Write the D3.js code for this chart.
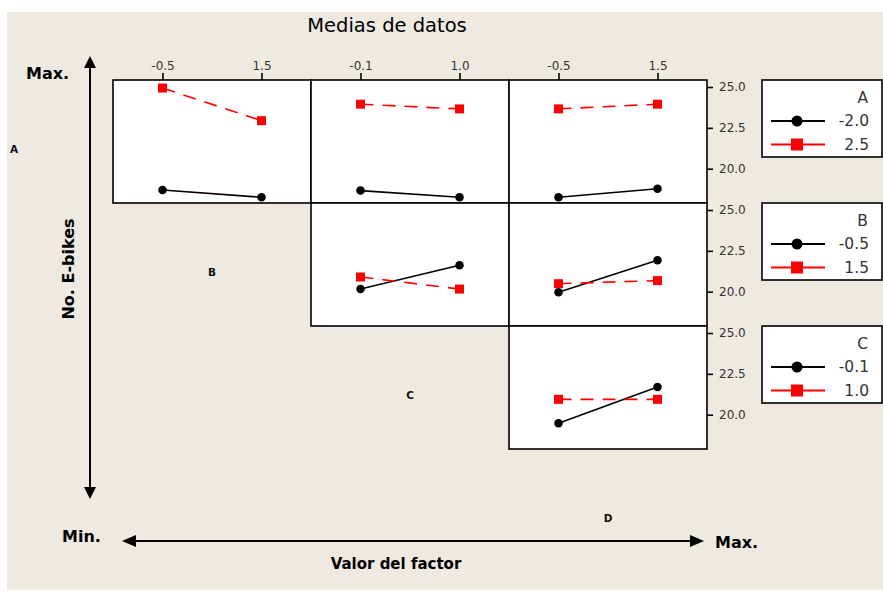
<!DOCTYPE html>
<html><head><meta charset="utf-8">
<script src="https://cdn.jsdelivr.net/npm/d3@7"></script>
<style>body{margin:0;background:#fff}svg{display:block}</style>
</head><body><svg id="c" width="883" height="592"></svg>
<script>
// ---- data ----
const rowFactors = ["A", "B", "C"];
const colFactors = ["B", "C", "D"];
const levelsA = ["-2.0", "2.5"];
const levelsB = ["-0.5", "1.5"];
const levelsC = ["-0.1", "1.0"];
const levelsD = ["-0.5", "1.5"];
// means: [line level][x level]
const meansAB = [[18.70, 18.25], [24.94, 22.94]];
const meansAC = [[18.66, 18.25], [23.95, 23.66]];
const meansAD = [[18.25, 18.77], [23.66, 23.95]];
const meansBC = [[20.16, 21.62], [20.90, 20.16]];
const meansBD = [[19.96, 21.93], [20.49, 20.68]];
const meansCD = [[19.48, 21.69], [20.94, 20.94]];
const yTicks = [20.0, 22.5, 25.0];
const yDomain = [17.9, 25.43];
const cornerLabels = ["A", "B", "C", "D"];

const levels = {A: levelsA, B: levelsB, C: levelsC, D: levelsD};
const means = {AB: meansAB, AC: meansAC, AD: meansAD, BC: meansBC, BD: meansBD, CD: meansCD};

const svg = d3.select("#c");
const FONT = "'DejaVu Sans', Verdana, sans-serif";
svg.append("rect").attr("width", 883).attr("height", 592).attr("fill", "#fff");
svg.append("rect").attr("x", 7).attr("y", 12).attr("width", 876).attr("height", 578).attr("fill", "#EEEAE1");

const colBand = d3.scaleBand().domain(colFactors).range([113, 707]);
const rowBand = d3.scaleBand().domain(rowFactors).range([80, 449]);
const cw = colBand.bandwidth(), rh = rowBand.bandwidth();

const styles = [
  {color: "#000", dash: null, marker: "circle"},
  {color: "#FF0000", dash: "13,9", marker: "square"}
];

function marker(g, st, x, y, size) {
  if (st.marker === "circle") {
    g.append("circle").attr("cx", x).attr("cy", y).attr("r", size / 2).attr("fill", st.color);
  } else {
    g.append("rect").attr("x", x - size / 2).attr("y", y - size / 2).attr("width", size).attr("height", size).attr("fill", st.color);
  }
}

rowFactors.forEach((rf, ri) => {
  colFactors.forEach((cf, ci) => {
    if (ci < ri) return;
    const g = svg.append("g").attr("transform", `translate(${colBand(cf)},${rowBand(rf)})`);
    const x = d3.scalePoint().domain(levels[cf]).range([0, cw]).padding(0.5);
    const y = d3.scaleLinear().domain(yDomain).range([rh, 0]);
    g.append("rect").attr("width", cw).attr("height", rh).attr("fill", "#fff");
    const data = means[rf + cf];
    data.forEach((vals, li) => {
      const st = styles[li];
      const pts = vals.map((v, k) => [x(levels[cf][k]), y(v)]);
      g.append("path").attr("d", d3.line()(pts)).attr("fill", "none")
        .attr("stroke", st.color).attr("stroke-width", 1.6)
        .attr("stroke-dasharray", st.dash);
      pts.forEach(p => marker(g, st, p[0], p[1], st.marker === "circle" ? 8.5 : 9));
    });
    g.append("rect").attr("width", cw).attr("height", rh).attr("fill", "none")
      .attr("stroke", "#000").attr("stroke-width", 1.6);
    if (ri === 0) {
      const ax = g.append("g").call(d3.axisTop(x).tickSize(7).tickPadding(3));
      ax.select(".domain").remove();
      ax.selectAll("line").attr("stroke", "#000").attr("stroke-width", 1.6);
      ax.selectAll("text").attr("font-family", FONT).attr("font-size", 12).attr("fill", "#333");
    }
    if (ci === colFactors.length - 1) {
      const ay = g.append("g").attr("transform", `translate(${cw},0)`)
        .call(d3.axisRight(y).tickValues(yTicks).tickFormat(d3.format(".1f")).tickSize(6).tickPadding(6));
      ay.select(".domain").remove();
      ay.selectAll("line").attr("stroke", "#000").attr("stroke-width", 1.6);
      ay.selectAll("text").attr("font-family", FONT).attr("font-size", 12).attr("fill", "#333");
    }
  });
  // legend
  const lg = svg.append("g").attr("transform", `translate(762,${rowBand(rf)})`);
  lg.append("rect").attr("width", 120).attr("height", 77).attr("fill", "#fff")
    .attr("stroke", "#000").attr("stroke-width", 1.6);
  lg.append("text").attr("x", 106).attr("y", 18).attr("dy", "0.35em").attr("text-anchor", "end")
    .attr("font-family", FONT).attr("font-size", 15.5).attr("fill", "#333").text(rf);
  levels[rf].forEach((lv, li) => {
    const st = styles[li];
    const yy = 41 + li * 23.5;
    lg.append("line").attr("x1", 9).attr("x2", 63).attr("y1", yy).attr("y2", yy)
      .attr("stroke", st.color).attr("stroke-width", 2);
    marker(lg, st, 35, yy, st.marker === "circle" ? 11 : 12);
    lg.append("text").attr("x", 107).attr("y", yy).attr("dy", "0.35em").attr("text-anchor", "end")
      .attr("font-family", FONT).attr("font-size", 15.5).attr("fill", "#333").text(lv);
  });
});

// corner factor labels on the diagonal
cornerLabels.forEach((lab, i) => {
  const cx = colBand("B") + (i - 0.5) * cw;
  const cy = rowBand("A") + (i + 0.5) * rh + 8;
  svg.append("text").attr("x", cx).attr("y", cy).attr("text-anchor", "middle").attr("dy", "0.35em")
    .attr("font-family", FONT).attr("font-weight", "bold").attr("font-size", 10.5).attr("fill", "#111").text(lab);
});

// title
svg.append("text").attr("x", 387).attr("y", 25).attr("dy", "0.35em").attr("text-anchor", "middle")
  .attr("font-family", FONT).attr("font-size", 19.5).attr("fill", "#000").text("Medias de datos");

// arrows
function arrowHead(g, x, y, dir) {
  const L = 12, Wd = 6;
  let p;
  if (dir === "up") p = [[x, y], [x - Wd, y + L], [x + Wd, y + L]];
  if (dir === "down") p = [[x, y], [x - Wd, y - L], [x + Wd, y - L]];
  if (dir === "left") p = [[x, y], [x + L + 2, y - Wd], [x + L + 2, y + Wd]];
  if (dir === "right") p = [[x, y], [x - L - 2, y - Wd], [x - L - 2, y + Wd]];
  g.append("path").attr("d", d3.line()(p) + "Z").attr("fill", "#000");
}
const ar = svg.append("g");
ar.append("line").attr("x1", 90).attr("x2", 90).attr("y1", 62).attr("y2", 494).attr("stroke", "#000").attr("stroke-width", 2);
arrowHead(ar, 90, 56, "up");
arrowHead(ar, 90, 499, "down");
ar.append("line").attr("x1", 128).attr("x2", 698).attr("y1", 541).attr("y2", 541).attr("stroke", "#000").attr("stroke-width", 2);
arrowHead(ar, 122, 541, "left");
arrowHead(ar, 704, 541, "right");

function bt(x, y, t, anchor, size, rot) {
  const e = svg.append("text").attr("x", x).attr("y", y).attr("dy", "0.35em")
    .attr("text-anchor", anchor).attr("font-family", FONT).attr("font-weight", "bold")
    .attr("font-size", size).attr("fill", "#000").text(t);
  if (rot) e.attr("transform", `rotate(${rot},${x},${y})`);
}
bt(26, 73, "Max.", "start", 16);
bt(62, 536, "Min.", "start", 16);
bt(715, 542, "Max.", "start", 16);
bt(68, 269, "No. E-bikes", "middle", 16, -90);
bt(396, 564, "Valor del factor", "middle", 15);
</script></body></html>
